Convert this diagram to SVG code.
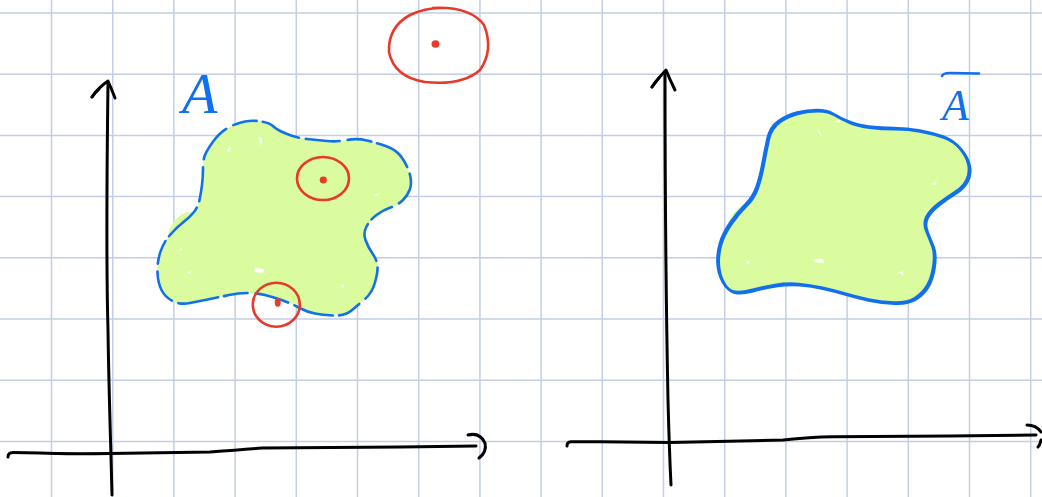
<svg xmlns="http://www.w3.org/2000/svg" width="1042" height="497" viewBox="0 0 1042 497">
<style>
.grid line{stroke:#c2cee3;stroke-width:1.5}
.ax{fill:none;stroke:#000;stroke-width:3;stroke-linecap:round;stroke-linejoin:round}
.fill{fill:#dbfb9f;stroke:none}
.blue{fill:none;stroke:#1170ec;stroke-width:2.6;stroke-linecap:round;stroke-linejoin:round}
.red{fill:none;stroke:#e83a2a;stroke-width:2.6}
.dot{fill:#e83a2a}
.lbl{font-family:"Liberation Serif",serif;font-style:italic;fill:#1170ec}
.speck{fill:#fff}
</style>
<rect width="1042" height="497" fill="#fff"/>
<g class="grid" id="grid">
<line x1="51.5" y1="0" x2="51.5" y2="497"/><line x1="112.7" y1="0" x2="112.7" y2="497"/><line x1="173.9" y1="0" x2="173.9" y2="497"/><line x1="235.1" y1="0" x2="235.1" y2="497"/><line x1="296.3" y1="0" x2="296.3" y2="497"/><line x1="357.5" y1="0" x2="357.5" y2="497"/><line x1="418.7" y1="0" x2="418.7" y2="497"/><line x1="479.9" y1="0" x2="479.9" y2="497"/><line x1="541.1" y1="0" x2="541.1" y2="497"/><line x1="602.3" y1="0" x2="602.3" y2="497"/><line x1="663.5" y1="0" x2="663.5" y2="497"/><line x1="724.7" y1="0" x2="724.7" y2="497"/><line x1="785.9" y1="0" x2="785.9" y2="497"/><line x1="847.1" y1="0" x2="847.1" y2="497"/><line x1="908.3" y1="0" x2="908.3" y2="497"/><line x1="969.5" y1="0" x2="969.5" y2="497"/><line x1="1030.7" y1="0" x2="1030.7" y2="497"/>
<line x1="0" y1="13" x2="1042" y2="13"/><line x1="0" y1="74.2" x2="1042" y2="74.2"/><line x1="0" y1="135.4" x2="1042" y2="135.4"/><line x1="0" y1="196.6" x2="1042" y2="196.6"/><line x1="0" y1="257.8" x2="1042" y2="257.8"/><line x1="0" y1="319" x2="1042" y2="319"/><line x1="0" y1="380.2" x2="1042" y2="380.2"/><line x1="0" y1="441.4" x2="1042" y2="441.4"/>
</g>
<g id="setA">
<path class="fill" d="M205,155 Q207,150 213.5,141 Q220,132 228.5,127.5 Q237,123 245,121.5 Q253,120 261.5,121.5 Q270,123 273.5,126.5 Q277,130 287,134 Q297,138 307,139 Q317,140 327,141 Q337,142 347,140 Q357,138 367,140.5 Q377,143 387,146.5 Q397,150 402.5,158.5 Q408,167 410,175 Q412,183 410,189 Q408,195 403,200 Q398,205 390.5,207.5 Q383,210 376.5,215 Q370,220 366.5,226.5 Q363,233 365.5,240 Q368,247 372.5,253.5 Q377,260 377.5,266 Q378,272 375,282.5 Q372,293 365,299 Q358,305 351.5,310.5 Q345,316 334,315.5 Q323,315 315,313.5 Q307,312 298.5,307.5 Q290,303 281.5,300 Q273,297 265,295 Q257,293 247.5,293 Q238,293 229,295 Q220,297 210,299 Q200,301 190,303 Q180,305 172.5,301 Q165,297 161.5,290 Q158,283 157.5,273 Q157,263 160,253 Q163,243 170,235 Q177,227 183.5,222 Q190,217 194,212 Q198,207 199.5,200 Q201,193 202,185 Q203,177 203,168.5 Q203,160 205,155 Z"/>
<path class="fill" d="M168,236 Q170,222 182,214 Q192,210 196,214 L186,230 Z"/>
<path class="speck" d="M258,137 l4,1 l-1,8 z"/><path class="speck" d="M226,150 l5,-3 l-2,5 z"/><path class="speck" d="M374,195 l6,-2 l-3,3 z"/><path class="speck" d="M255,268 l9,1 l-1,4 l-9,-1 z"/><path class="speck" d="M186,273 l5,-2 l-1,3 z"/><path class="speck" d="M340,286 l4,-2 l0,4 z"/><path class="speck" d="M179,250 l3,-3 l0,4 z"/>
<path class="blue" stroke-dasharray="34 8 24 6 40 7" d="M205,155 Q207,150 213.5,141 Q220,132 228.5,127.5 Q237,123 245,121.5 Q253,120 261.5,121.5 Q270,123 273.5,126.5 Q277,130 287,134 Q297,138 307,139 Q317,140 327,141 Q337,142 347,140 Q357,138 367,140.5 Q377,143 387,146.5 Q397,150 402.5,158.5 Q408,167 410,175 Q412,183 410,189 Q408,195 403,200 Q398,205 390.5,207.5 Q383,210 376.5,215 Q370,220 366.5,226.5 Q363,233 365.5,240 Q368,247 372.5,253.5 Q377,260 377.5,266 Q378,272 375,282.5 Q372,293 365,299 Q358,305 351.5,310.5 Q345,316 334,315.5 Q323,315 315,313.5 Q307,312 298.5,307.5 Q290,303 281.5,300 Q273,297 265,295 Q257,293 247.5,293 Q238,293 229,295 Q220,297 210,299 Q200,301 190,303 Q180,305 172.5,301 Q165,297 161.5,290 Q158,283 157.5,273 Q157,263 160,253 Q163,243 170,235 Q177,227 183.5,222 Q190,217 194,212 Q198,207 199.5,200 Q201,193 202,185 Q203,177 203,168.5 Q203,160 205,155 Z"/>
<text class="lbl" x="182" y="113" font-size="58">A</text>
</g>
<g id="circle-outside">
<path class="red" d="M432,8 Q470,6 484,25 Q494,50 480,70 Q462,86 425,82 Q394,77 389,52 Q388,27 410,15 Q425,8 440,8"/>
<ellipse class="dot" cx="435.5" cy="44" rx="4" ry="3.8"/>
</g>
<g id="circle-interior">
<ellipse class="red" cx="323" cy="178.5" rx="26" ry="21.5"/>
<ellipse class="dot" cx="323.3" cy="180" rx="3.6" ry="3.4"/>
</g>
<g id="circle-boundary">
<ellipse class="red" cx="276.3" cy="304.7" rx="23.5" ry="22"/>
<ellipse class="dot" cx="277.7" cy="302.5" rx="3" ry="4.2"/>
</g>
<g id="setAbar">
<path class="fill" d="M767.5,138.5 Q770,127 778.5,121 Q787,115 797,112.5 Q807,110 817,110 Q827,110 833.5,114 Q840,118 848.5,121.5 Q857,125 868.5,126.5 Q880,128 893.5,128 Q907,128 920,130.5 Q933,133 943,136.5 Q953,140 960,148.5 Q967,157 968.5,165 Q970,173 966.5,180 Q963,187 955,192 Q947,197 938.5,203.5 Q930,210 926.5,216.5 Q923,223 926.5,231.5 Q930,240 932.5,246.5 Q935,253 933.5,265 Q932,277 927.5,285 Q923,293 915,298 Q907,303 893.5,302.5 Q880,302 868.5,299.5 Q857,297 845,293.5 Q833,290 821.5,287.5 Q810,285 798.5,284 Q787,283 775,285 Q763,287 751.5,290 Q740,293 733.5,291.5 Q727,290 722.5,281.5 Q718,273 717.5,263 Q717,253 720,243 Q723,233 730,223 Q737,213 745,205 Q753,197 756.5,187 Q760,177 762.5,163.5 Q765,150 767.5,138.5 Z"/>
<path class="fill" d="M728,222 Q736,206 752,200 L744,226 Z"/>
<path class="speck" d="M817,130 l3,1 l2,7 z"/><path class="speck" d="M931,184 l6,-3 l-2,4 z"/><path class="speck" d="M813,259 l10,0 l1,4 l-9,-1 z"/><path class="speck" d="M745,262 l5,-2 l-1,4 z"/><path class="speck" d="M898,273 l5,-2 l0,4 z"/><path class="speck" d="M836,121 l4,-1 l-1,3 z"/><path class="speck" d="M924,214 l4,-2 l-2,4 z"/>
<path class="blue" d="M767.5,138.5 Q770,127 778.5,121 Q787,115 797,112.5 Q807,110 817,110 Q827,110 833.5,114 Q840,118 848.5,121.5 Q857,125 868.5,126.5 Q880,128 893.5,128 Q907,128 920,130.5 Q933,133 943,136.5 Q953,140 960,148.5 Q967,157 968.5,165 Q970,173 966.5,180 Q963,187 955,192 Q947,197 938.5,203.5 Q930,210 926.5,216.5 Q923,223 926.5,231.5 Q930,240 932.5,246.5 Q935,253 933.5,265 Q932,277 927.5,285 Q923,293 915,298 Q907,303 893.5,302.5 Q880,302 868.5,299.5 Q857,297 845,293.5 Q833,290 821.5,287.5 Q810,285 798.5,284 Q787,283 775,285 Q763,287 751.5,290 Q740,293 733.5,291.5 Q727,290 722.5,281.5 Q718,273 717.5,263 Q717,253 720,243 Q723,233 730,223 Q737,213 745,205 Q753,197 756.5,187 Q760,177 762.5,163.5 Q765,150 767.5,138.5 Z"/>
<path class="blue" transform="translate(1.3,1.2)" d="M767.5,138.5 Q770,127 778.5,121 Q787,115 797,112.5 Q807,110 817,110 Q827,110 833.5,114 Q840,118 848.5,121.5 Q857,125 868.5,126.5 Q880,128 893.5,128 Q907,128 920,130.5 Q933,133 943,136.5 Q953,140 960,148.5 Q967,157 968.5,165 Q970,173 966.5,180 Q963,187 955,192 Q947,197 938.5,203.5 Q930,210 926.5,216.5 Q923,223 926.5,231.5 Q930,240 932.5,246.5 Q935,253 933.5,265 Q932,277 927.5,285 Q923,293 915,298 Q907,303 893.5,302.5 Q880,302 868.5,299.5 Q857,297 845,293.5 Q833,290 821.5,287.5 Q810,285 798.5,284 Q787,283 775,285 Q763,287 751.5,290 Q740,293 733.5,291.5 Q727,290 722.5,281.5 Q718,273 717.5,263 Q717,253 720,243 Q723,233 730,223 Q737,213 745,205 Q753,197 756.5,187 Q760,177 762.5,163.5 Q765,150 767.5,138.5 Z"/>
<path class="blue" d="M942,76 Q943,73 950,73 L979,73.5"/>
<text class="lbl" x="942" y="120" font-size="44">A</text>
</g>
<g id="axes">
<path class="ax" d="M108,83 C107,160 106,260 108,330 C109,400 111,450 112,495"/>
<path class="ax" d="M92,97 Q99,87 108,81 Q112,90 115,98"/>
<path class="ax" stroke-width="4.5" d="M92,97 Q95,92 99,89"/>
<path class="ax" d="M8,457 Q8,452.5 13,452.5 L40,453 Q60,454 110,453.5 L210,452 Q240,450 262,448 L400,447 L476,446"/>
<path class="ax" d="M468,435 Q480,432 485,443 Q487,452 479,458"/>
<path class="ax" d="M665,73 C665,160 666,300 668,400 C669,440 670,465 671,485"/>
<path class="ax" d="M652,87 Q659,77 666,70 Q670,80 675,90"/>
<path class="ax" stroke-width="4.5" d="M652,87 Q655,82 659,78"/>
<path class="ax" d="M567,446 Q567,442 571,441.8 L600,441.8 L670,442.5 Q740,441 783,440 Q810,437 833,436.7 L950,436 L1036,435"/>
<path class="ax" d="M1027,425 Q1036,425 1041,432 M1041,440 Q1040,445 1038,447"/>
</g>
</svg>
